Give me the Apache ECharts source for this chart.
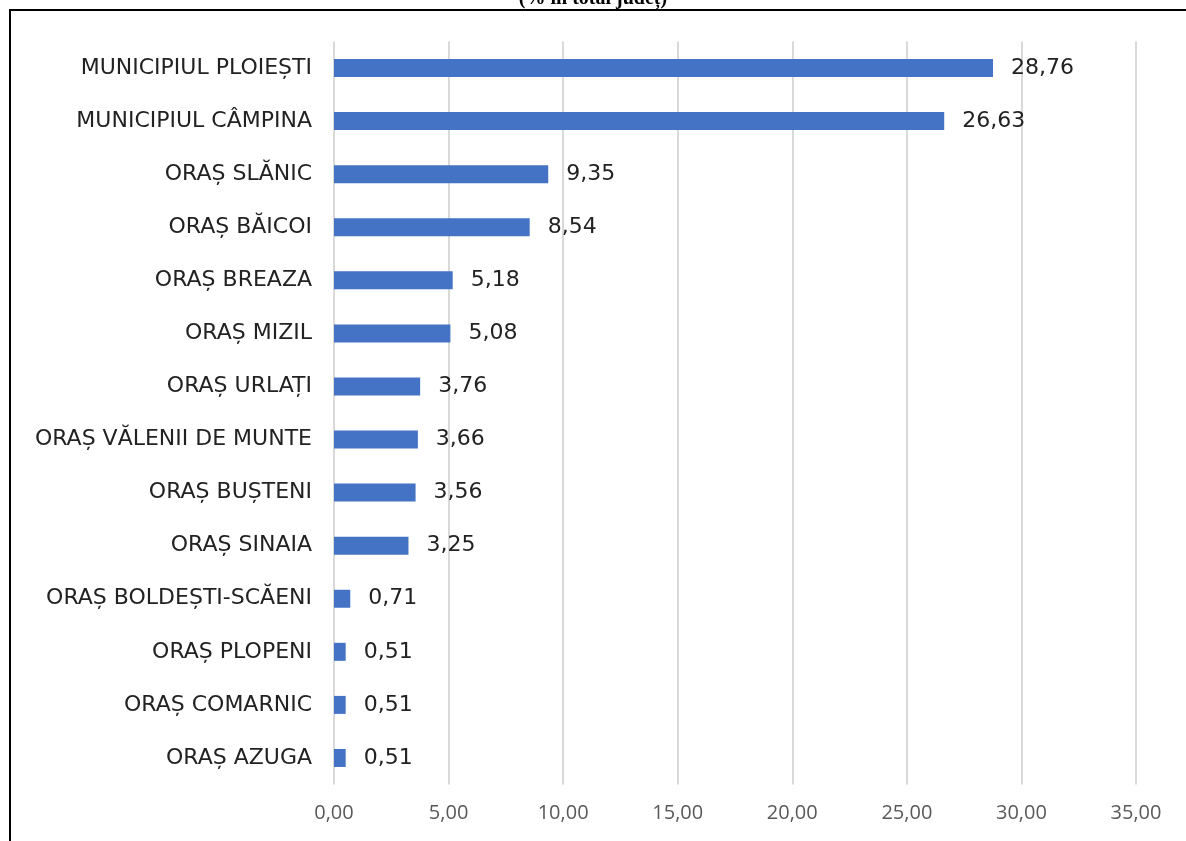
<!DOCTYPE html>
<html><head><meta charset="utf-8">
<script src="https://cdn.jsdelivr.net/npm/echarts@6/dist/echarts.min.js"></script>
<style>html,body{margin:0;padding:0;background:#fff}#c{width:1186px;height:841px}</style>
</head><body><div id="c"></div>
<script>
const categories = ["MUNICIPIUL PLOIEȘTI","MUNICIPIUL CÂMPINA","ORAȘ SLĂNIC","ORAȘ BĂICOI","ORAȘ BREAZA","ORAȘ MIZIL","ORAȘ URLAȚI","ORAȘ VĂLENII DE MUNTE","ORAȘ BUȘTENI","ORAȘ SINAIA","ORAȘ BOLDEȘTI-SCĂENI","ORAȘ PLOPENI","ORAȘ COMARNIC","ORAȘ AZUGA"];
const values = [28.76,26.63,9.35,8.54,5.18,5.08,3.76,3.66,3.56,3.25,0.71,0.51,0.51,0.51];
const titleText = "(% în total județ)";
const fmt = v => v.toFixed(2).replace('.', ',');
const chart = echarts.init(document.getElementById('c'));
chart.setOption({
  animation:false,
  graphic:[
    {type:'rect',shape:{x:10,y:10,width:1200,height:860},style:{fill:'none',stroke:'#000',lineWidth:2},z:0},
    {type:'text',x:593,y:-11,style:{text:titleText,font:'bold 20px "Liberation Serif"',fill:'#000',align:'center',verticalAlign:'top'}}
  ],
  grid:{left:334,right:50,top:41.5,bottom:56.5,containLabel:false},
  xAxis:{type:'value',min:0,max:35,interval:5,
    axisLine:{show:false},axisTick:{show:false},
    splitLine:{lineStyle:{color:'#d9d9d9',width:2}},
    axisLabel:{formatter:v=>fmt(v),color:'#595959',fontSize:20,fontFamily:'Open Sans',margin:19}},
  yAxis:{type:'category',inverse:true,data:categories,
    axisLine:{show:false},axisTick:{show:false},
    axisLabel:{color:'#222222',fontSize:22,fontFamily:'DejaVu Sans',margin:22}},
  series:[{type:'bar',data:values,barWidth:18,itemStyle:{color:'#4472C4'},
    label:{show:true,position:'right',distance:18,formatter:p=>fmt(p.value),color:'#222222',fontSize:22,fontFamily:'DejaVu Sans'}}]
});
</script></body></html>
